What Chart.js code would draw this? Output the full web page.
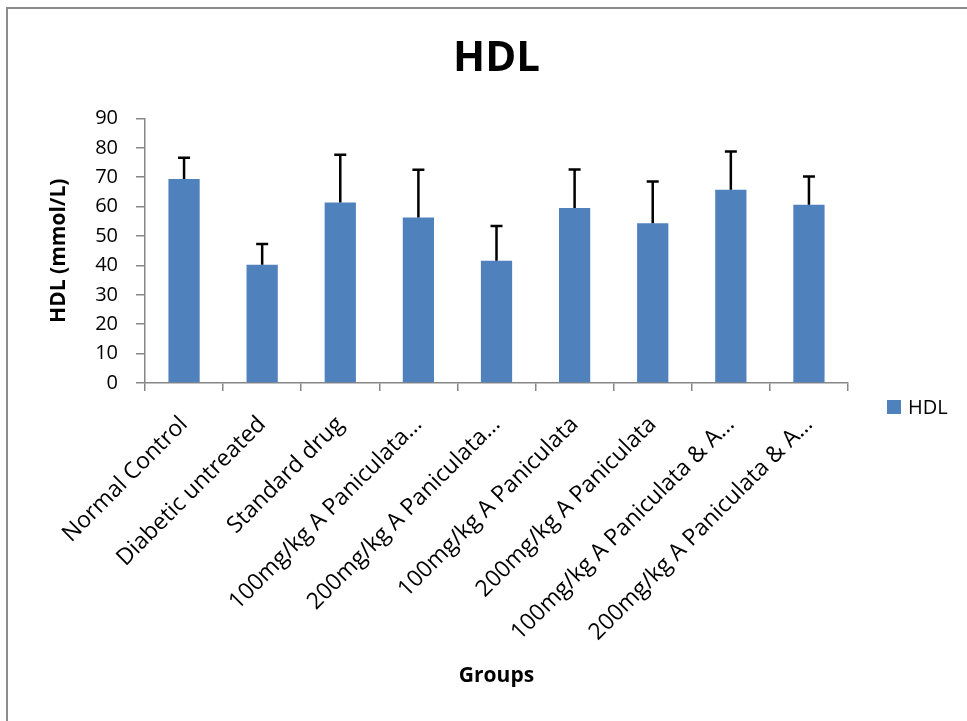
<!DOCTYPE html>
<html>
<head>
<meta charset="utf-8">
<script src="https://cdn.jsdelivr.net/npm/chart.js@4.4.1/dist/chart.umd.min.js"></script>
<style>
    body { margin: 0; background: #fff; overflow: hidden; }
    #frame {
        position: absolute; left: 6px; top: 7px; width: 2000px; height: 2000px;
        border-left: 2px solid #8c8c8c; border-top: 2px solid #8c8c8c;
    }
    #wrap { position: absolute; left: 0; top: 0; width: 967px; height: 721px; }
</style>
</head>
<body>
<div id="frame"></div>
<div id="wrap"><canvas id="hdlChart"></canvas></div>
<script>
const groups = [
    "Normal Control",
    "Diabetic untreated",
    "Standard drug",
    "100mg/kg A Paniculata…",
    "200mg/kg A Paniculata…",
    "100mg/kg A Paniculata",
    "200mg/kg A Paniculata",
    "100mg/kg A Paniculata & A…",
    "200mg/kg A Paniculata & A…"
];
const hdlValues = [69.4, 40.2, 61.4, 56.3, 41.6, 59.5, 54.3, 65.7, 60.6];
const hdlErrors = [7.2, 7.1, 16.2, 16.2, 11.8, 13.1, 14.2, 13.0, 9.6];
const yTicks = [0, 10, 20, 30, 40, 50, 60, 70, 80, 90];

const FONT = "'Open Sans', 'DejaVu Sans', sans-serif";
const BLUE = "#4F81BD";
const AXIS = "#868686";

// upward-only error bars, positioned through the chart's own scales
const errorBars = {
    id: "errorBars",
    afterDatasetsDraw(chart) {
        const ctx = chart.ctx;
        const x = chart.scales.x;
        const y = chart.scales.y;
        ctx.save();
        ctx.strokeStyle = "#000";
        ctx.lineWidth = 2.5;
        hdlValues.forEach((v, i) => {
            const px = x.getPixelForValue(i);
            const yTop = y.getPixelForValue(v + hdlErrors[i]);
            const yBar = y.getPixelForValue(v);
            ctx.beginPath();
            ctx.moveTo(px, yBar);
            ctx.lineTo(px, yTop);
            ctx.moveTo(px - 6, yTop);
            ctx.lineTo(px + 6, yTop);
            ctx.stroke();
        });
        ctx.restore();
    }
};

// legend box on the right, like the spreadsheet one
const sideLegend = {
    id: "sideLegend",
    afterDraw(chart) {
        const ctx = chart.ctx;
        const ds = chart.data.datasets[0];
        ctx.save();
        ctx.fillStyle = ds.backgroundColor;
        ctx.fillRect(887, 400, 14, 14);
        ctx.fillStyle = "#000";
        ctx.font = "20px " + FONT;
        ctx.textBaseline = "middle";
        ctx.fillText(ds.label, 908, 408);
        ctx.restore();
    }
};

const ctx = document.getElementById("hdlChart").getContext("2d");
new Chart(ctx, {
    type: "bar",
    data: {
        labels: groups,
        datasets: [{
            label: "HDL",
            data: hdlValues,
            backgroundColor: BLUE,
            borderWidth: 0,
            barPercentage: 0.4,
            categoryPercentage: 1.0
        }]
    },
    options: {
        responsive: true,
        maintainAspectRatio: false,
        animation: false,
        events: [],
        layout: { padding: { left: 0, right: 119, top: 10, bottom: 0 } },
        plugins: {
            legend: { display: false },
            tooltip: { enabled: false },
            title: {
                display: true,
                text: "HDL",
                fullSize: false,
                color: "#000",
                font: { family: FONT, size: 42, weight: "bold" },
                padding: { top: 24, bottom: 34 }
            }
        },
        scales: {
            x: {
                offset: true,
                grid: {
                    display: true,
                    offset: true,
                    drawOnChartArea: false,
                    drawTicks: true,
                    tickLength: 8,
                    color: AXIS,
                    lineWidth: 1.5
                },
                border: { color: AXIS, width: 1.5 },
                ticks: {
                    color: "#000",
                    font: { family: FONT, size: 23 },
                    maxRotation: 45,
                    minRotation: 45,
                    autoSkip: false,
                    padding: 20
                },
                title: {
                    display: true,
                    text: "Groups",
                    color: "#000",
                    font: { family: FONT, size: 21, weight: "bold" },
                    padding: { top: 0, bottom: 32 }
                },
                afterFit(scale) { scale.height = 338; }
            },
            y: {
                min: yTicks[0],
                max: yTicks[yTicks.length - 1],
                grid: {
                    display: true,
                    drawOnChartArea: false,
                    drawTicks: true,
                    tickLength: 9,
                    color: AXIS,
                    lineWidth: 1.5
                },
                border: { color: AXIS, width: 1.5 },
                afterBuildTicks(scale) {
                    scale.ticks = yTicks.map(v => ({ value: v }));
                },
                ticks: {
                    color: "#000",
                    font: { family: FONT, size: 20 },
                    padding: 18
                },
                title: {
                    display: true,
                    text: "HDL (mmol/L)",
                    color: "#000",
                    font: { family: FONT, size: 21, weight: "bold" },
                    padding: { top: 46, bottom: 0 }
                },
                afterFit(scale) { scale.width = 145; }
            }
        }
    },
    plugins: [errorBars, sideLegend]
});
</script>
</body>
</html>
